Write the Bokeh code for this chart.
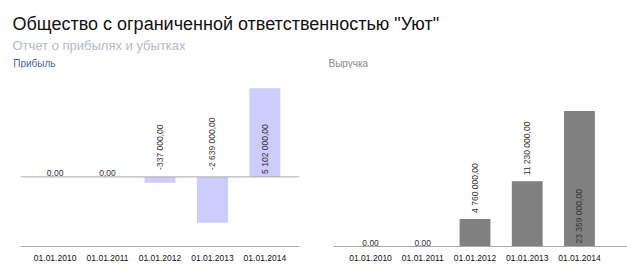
import math
from bokeh.plotting import figure
from bokeh.layouts import column, row
from bokeh.models import ColumnDataSource, Range1d, FixedTicker, Span, Label
from bokeh.core.properties import value
from bokeh.embed import file_html
from bokeh.resources import INLINE

# ---- data ----
dates = ["01.01.2010", "01.01.2011", "01.01.2012", "01.01.2013", "01.01.2014"]
profit = [0, 0, -337000, -2639000, 5102000]
revenue = [0, 0, 4760000, 11230000, 23359000]
title_text = 'Общество с ограниченной ответственностью "Уют"'
subtitle_text = "Отчет о прибылях и убытках"
left_title = "Прибыль"
right_title = "Выручка"

FONT = "Liberation Sans"
HEADER_H = 68


def fmt(v):
    s = f"{abs(v):,.2f}".replace(",", " ").replace(".", ",")
    return ("-" if v < 0 else "") + s


def make_chart(vals, bar_color, x_start, x_end, y_start, y_end,
               width, border_left, border_right):
    p = figure(width=width, height=273 - HEADER_H, output_backend="svg", toolbar_location=None,
               x_range=Range1d(x_start, x_end), y_range=Range1d(y_start, y_end),
               y_axis_location=None, min_border_left=border_left,
               min_border_right=border_right, min_border_top=4, min_border_bottom=27)
    p.outline_line_color = None
    p.grid.visible = False
    p.background_fill_color = "white"
    p.border_fill_color = "white"
    idx = list(range(len(vals)))
    src = ColumnDataSource(dict(x=idx, top=vals))
    p.vbar(x="x", top="top", bottom=0, width=0.59, source=src,
           fill_color=bar_color, line_color=None)

    ax = p.xaxis[0]
    ax.ticker = FixedTicker(ticks=idx)
    ax.major_label_overrides = {i: d for i, d in enumerate(dates)}
    ax.major_tick_line_color = None
    ax.minor_tick_line_color = None
    ax.axis_line_color = "#a8a8a8"
    ax.major_label_text_font = FONT
    ax.major_label_text_font_size = "8.5px"
    ax.major_label_text_color = "#111111"
    ax.major_label_standoff = 2

    # value labels
    hx, hy, ht = [], [], []
    rx, ry, rt, roff = [], [], [], []
    for i, v in enumerate(vals):
        if v == 0:
            hx.append(i); hy.append(0); ht.append(fmt(v))
        elif v > 0 and v < 0.5 * y_end:
            rx.append(i); ry.append(v); rt.append(fmt(v)); roff.append(-6)
        elif v > 0:
            rx.append(i); ry.append(0); rt.append(fmt(v)); roff.append(-3)
        else:
            rx.append(i); ry.append(0); rt.append(fmt(v)); roff.append(-7)
    p.text(x="x", y="y", text="t", source=ColumnDataSource(dict(x=hx, y=hy, t=ht)),
           text_align="center", text_baseline="alphabetic", y_offset=-4,
           text_font=value(FONT), text_font_size="8.5px", text_color="#333333")
    p.text(x="x", y="y", text="t", source=ColumnDataSource(dict(x=rx, y=ry, t=rt, o=roff)),
           text_align="left", text_baseline="middle", y_offset="o", angle=math.pi / 2,
           text_font=value(FONT), text_font_size="8.5px", text_color="#333333")
    return p


left = make_chart(profit, "#ccccff", -0.66, 4.66, -4000000, 6000000, 318, 20, 19)
left.add_layout(Span(location=0, dimension="width", line_color="#a8a8a8", line_width=1))
right = make_chart(revenue, "#808080", -0.71, 4.92, 0, 30000000, 309, 15, 0)

header = figure(width=627, height=HEADER_H, output_backend="svg", toolbar_location=None,
                x_axis_location=None, y_axis_location=None, min_border=0,
                x_range=Range1d(0, 1), y_range=Range1d(0, 1))
header.outline_line_color = None
header.grid.visible = False
header.add_layout(Label(x=12, y=HEADER_H - 23, x_units="screen", y_units="screen",
                        text=title_text, text_font=FONT, text_font_size="18px",
                        text_color="#111111", text_baseline="alphabetic"))
header.add_layout(Label(x=12, y=HEADER_H - 45, x_units="screen", y_units="screen",
                        text=subtitle_text, text_font=FONT, text_font_size="13px",
                        text_color="#b6bacb", text_baseline="alphabetic"))
header.add_layout(Label(x=12.7, y=HEADER_H - 63.3, x_units="screen", y_units="screen",
                        text=left_title, text_font=FONT, text_font_size="10px",
                        text_color="#3f66a3", text_baseline="alphabetic"))
header.add_layout(Label(x=328, y=HEADER_H - 63.3, x_units="screen", y_units="screen",
                        text=right_title, text_font=FONT, text_font_size="10px",
                        text_color="#8a8a8a", text_baseline="alphabetic"))

layout = column(header, row(left, right, spacing=0), spacing=0)
open("out.html", "w").write(file_html(layout, INLINE))
